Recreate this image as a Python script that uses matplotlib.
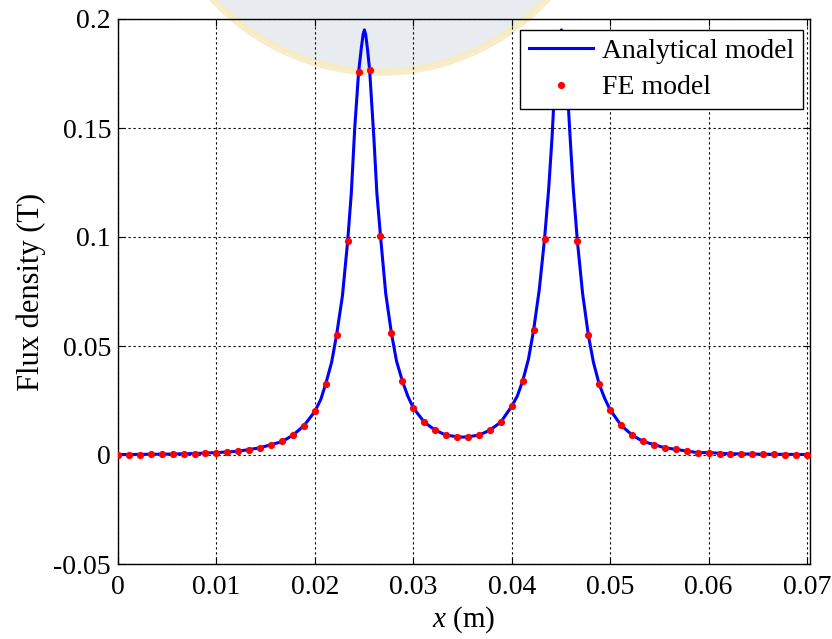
import numpy as np
import matplotlib

matplotlib.use("Agg")
import matplotlib.pyplot as plt
from matplotlib.patches import Ellipse

# FE solution sampled on 64 equally spaced nodes along the line 0..0.07 m
fe_x = np.linspace(0.0, 0.07, 64)
fe_b = [
    0.0002, 0.0002, 0.0002, 0.0003, 0.0003, 0.0004, 0.0005, 0.0006,
    0.0007, 0.0010, 0.0012, 0.0017, 0.0025, 0.0033, 0.0048, 0.0062,
    0.0092, 0.0135, 0.0200, 0.0326, 0.0549, 0.0980, 0.1755, 0.1768,
    0.1003, 0.0558, 0.0339, 0.0216, 0.0151, 0.0114, 0.0091, 0.0084,
    0.0084, 0.0091, 0.0114, 0.0151, 0.0224, 0.0339, 0.0572, 0.0990,
    0.1768, 0.1755, 0.0980, 0.0551, 0.0324, 0.0207, 0.0136, 0.0092,
    0.0062, 0.0048, 0.0033, 0.0026, 0.0018, 0.0011, 0.0011, 0.0006,
    0.0005, 0.0005, 0.0004, 0.0003, 0.0003, 0.0002, 0.0002, 0.0002,
]

# analytical model, denser around the two peaks
an_x = [
    0.0000, 0.0050, 0.0080, 0.0100, 0.0122, 0.0133, 0.0144, 0.0156,
    0.0167, 0.0178, 0.0189, 0.0200, 0.0206, 0.0211, 0.0217, 0.0222,
    0.0228, 0.02333, 0.0237, 0.02405, 0.02444, 0.0247, 0.0249, 0.02503,
    0.02516, 0.02535, 0.02556, 0.0260, 0.0263, 0.02667, 0.0272, 0.02778,
    0.0283, 0.02889, 0.02944, 0.0300, 0.03111, 0.03222, 0.03333, 0.03444,
    0.03505, 0.03556, 0.03667, 0.03778, 0.03889, 0.0400, 0.04056, 0.04111,
    0.0417, 0.04222, 0.0428, 0.04333, 0.04375, 0.0441, 0.04444, 0.0447,
    0.04492, 0.04505, 0.04518, 0.0454, 0.04556, 0.0459, 0.04625, 0.04667,
    0.0472, 0.04778, 0.0483, 0.04889, 0.04944, 0.0500, 0.05111, 0.05222,
    0.05333, 0.05444, 0.05556, 0.05667, 0.05778, 0.05889, 0.0600, 0.0620,
    0.0650, 0.0704,
]
an_b = [
    0.0002, 0.0004, 0.0007, 0.0011, 0.0017, 0.0025, 0.0033, 0.0048,
    0.0062, 0.0092, 0.0135, 0.0200, 0.0255, 0.0326, 0.0425, 0.0549,
    0.0730, 0.0980, 0.1200, 0.1500, 0.1755, 0.1860, 0.1930, 0.1950,
    0.1930, 0.1860, 0.1768, 0.1450, 0.1200, 0.1003, 0.0740, 0.0558,
    0.0430, 0.0339, 0.0270, 0.0216, 0.0151, 0.0114, 0.0091, 0.0084,
    0.0082, 0.0084, 0.0091, 0.0114, 0.0151, 0.0224, 0.0270, 0.0339,
    0.0440, 0.0572, 0.0760, 0.0990, 0.1220, 0.1460, 0.1768, 0.1870,
    0.1930, 0.1950, 0.1930, 0.1860, 0.1755, 0.1480, 0.1220, 0.0980,
    0.0740, 0.0551, 0.0425, 0.0324, 0.0260, 0.0207, 0.0136, 0.0092,
    0.0062, 0.0048, 0.0033, 0.0026, 0.0018, 0.0011, 0.0011, 0.0006,
    0.0004, 0.0002,
]

x_ticks = [0.0, 0.01, 0.02, 0.03, 0.04, 0.05, 0.06, 0.07]
x_tick_labels = ["0", "0.01", "0.02", "0.03", "0.04", "0.05", "0.06", "0.07"]
y_ticks = [-0.05, 0.0, 0.05, 0.1, 0.15, 0.2]
y_tick_labels = ["-0.05", "0", "0.05", "0.1", "0.15", "0.2"]

plt.rcParams["font.family"] = ["Liberation Serif", "DejaVu Serif"]
plt.rcParams["mathtext.fontset"] = "custom"
plt.rcParams["mathtext.it"] = "Liberation Serif:italic"
plt.rcParams["mathtext.rm"] = "Liberation Serif"
fs = 20

fig = plt.figure(figsize=(8.32, 6.39), dpi=100)
ax = fig.add_axes([118 / 832, 1 - 564 / 639, (810 - 118) / 832, (564 - 19) / 639])

# faint emblem stamped over the top edge
seal = Ellipse((380 / 832, 1 + 155 / 639), 454 / 832, 454 / 639,
               transform=fig.transFigure, facecolor="#e6eaf0",
               edgecolor="#f8ebc4", linewidth=5.5, alpha=0.9,
               clip_on=False, zorder=0.2)
ax.add_patch(seal)

ax.plot(an_x, an_b, color="#0000ff", linewidth=2.2, label="Analytical model", zorder=3)
ax.plot(fe_x, fe_b, linestyle="none", marker="o", markersize=5.2,
        color="#ff0000", markeredgewidth=0, label="FE model", zorder=4)

ax.set_xlim(0, 0.0703)
ax.set_ylim(-0.05, 0.2)
ax.set_xticks(x_ticks)
ax.set_xticklabels(x_tick_labels)
ax.set_yticks(y_ticks)
ax.set_yticklabels(y_tick_labels)
ax.tick_params(direction="in", length=5, width=0.8, labelsize=fs,
               top=True, right=True)
ax.tick_params(axis="x", pad=8)
ax.tick_params(axis="y", pad=5)
ax.grid(True, color="black", linestyle=(0, (2, 2.5)), linewidth=0.8)
for sp in ax.spines.values():
    sp.set_linewidth(1.0)

ax.set_xlabel(r"$x$ (m)", fontsize=21, labelpad=3)
ax.set_ylabel("Flux density (T)", fontsize=22, labelpad=5)

leg = ax.legend(loc="upper right", bbox_to_anchor=(803 / 832, 1 - 30 / 639),
                bbox_transform=fig.transFigure, borderaxespad=0,
                fontsize=fs, fancybox=False, framealpha=1, edgecolor="black",
                handlelength=2.3, handletextpad=0.35, borderpad=0.3,
                labelspacing=0.4)
leg.get_frame().set_linewidth(1.0)
leg.set_zorder(5)

fig.savefig("out.png", dpi=100)
plt.close(fig)
